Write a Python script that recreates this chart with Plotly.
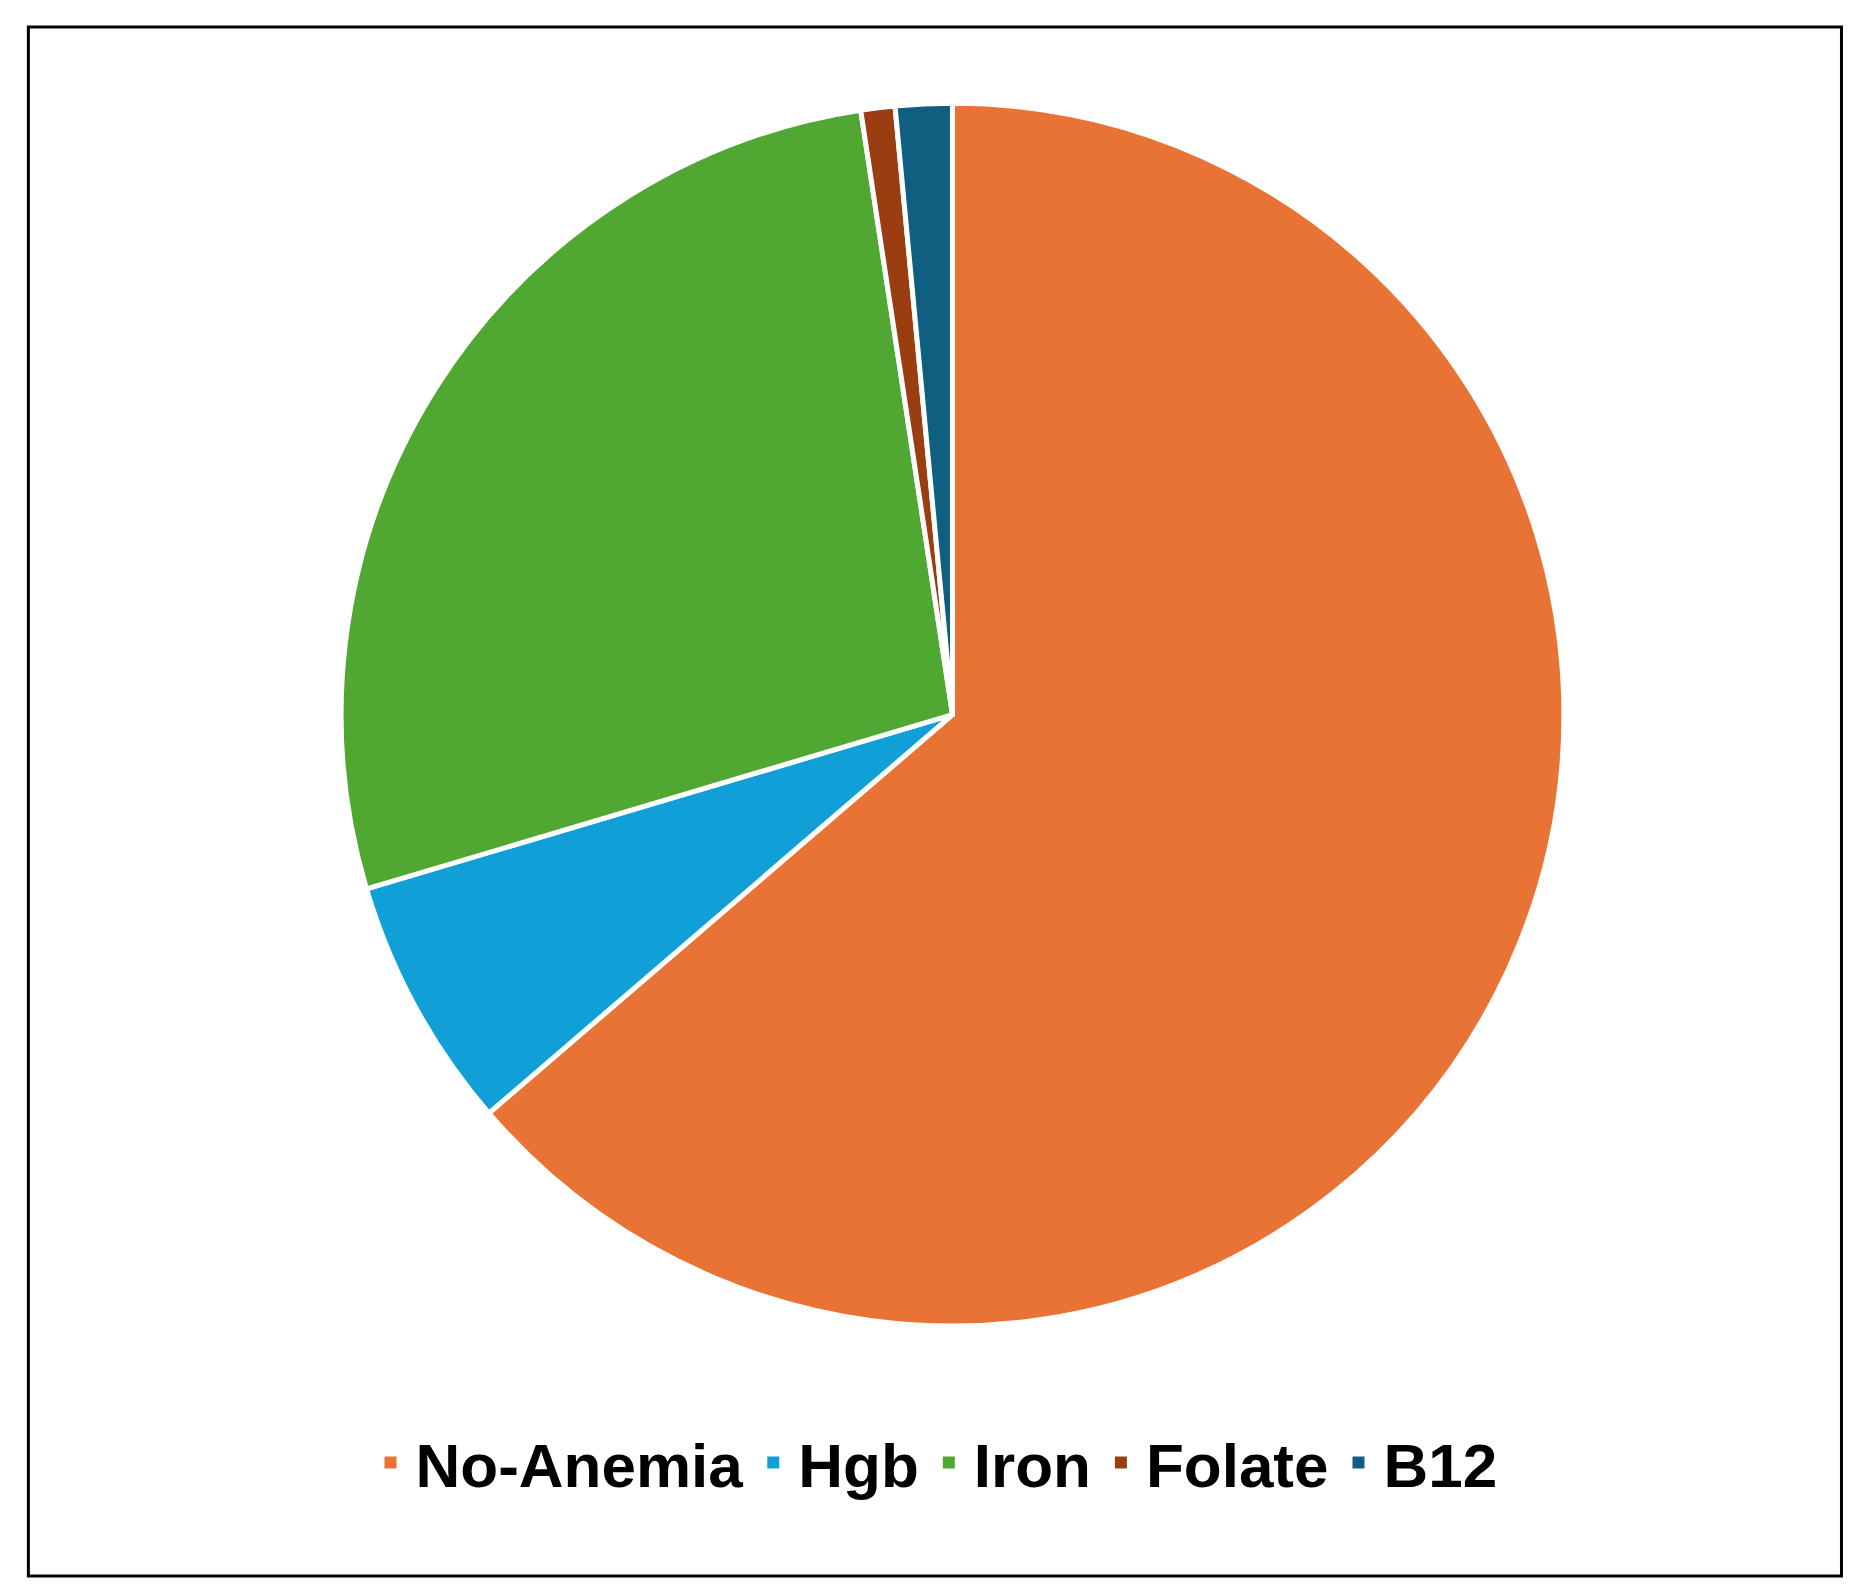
import plotly.graph_objects as go

labels = ['No-Anemia', 'Hgb', 'Iron', 'Folate', 'B12']
values = [63.7, 6.7, 27.2, 0.9, 1.5]
colors = ['#E87335', '#109FD6', '#50A732', '#9A3E12', '#0E5F80']

fig = go.Figure()
fig.add_pie(labels=labels, values=values, sort=False, direction='clockwise',
            rotation=0, textinfo='none', hoverinfo='label+percent', showlegend=False,
            marker=dict(colors=colors, line=dict(color='white', width=5)),
            domain=dict(x=[0.12, 0.90], y=[0.17, 0.94]))

# legend entries with square swatches
for lab, col in zip(labels, colors):
    fig.add_scatter(x=[None], y=[None], mode='markers', name=lab,
                    marker=dict(symbol='square', size=34, color=col))

fig.update_layout(
    width=1852, height=1588,
    margin=dict(l=0, r=0, t=0, b=0),
    paper_bgcolor='white', plot_bgcolor='white',
    xaxis=dict(visible=False), yaxis=dict(visible=False),
    showlegend=True,
    legend=dict(orientation='h', x=0.5, xanchor='center', y=0.084, yanchor='middle',
                font=dict(family='Liberation Sans, Arial', size=62, color='black', weight='bold'),
                itemwidth=40, itemsizing='constant', entrywidthmode='pixels', traceorder='normal'),
    shapes=[dict(type='rect', xref='paper', yref='paper', x0=0.011, x1=0.99,
                 y0=0.0126, y1=0.988, line=dict(color='black', width=3))]
)

fig.write_html("out.html")
